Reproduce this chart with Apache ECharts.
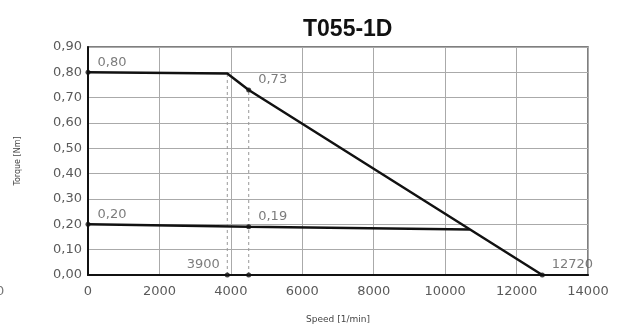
<!DOCTYPE html>
<html>
<head>
<meta charset="utf-8">
<script src="https://cdn.jsdelivr.net/npm/echarts@6/dist/echarts.min.js"></script>
<style>
  html, body { margin: 0; padding: 0; background: #fff; }
  #chart { width: 622px; height: 329px; }
</style>
</head>
<body>
<div id="chart"></div>
<script>
// Torque/speed characteristic of the T055-1D drive
const chartTitle = 'T055-1D';
const xAxisName = 'Speed [1/min]';
const yAxisName = 'Torque [Nm]';

// Peak torque curve: speed [1/min] and torque [Nm]
const peakSpeed = [0, 3900, 4500, 12720];
const peakTorque = [0.80, 0.795, 0.73, 0];

// Continuous torque curve
const contSpeed = [0, 4500, 10690];
const contTorque = [0.20, 0.19, 0.18];

// Annotated points: speed, torque, which value to print, label side
const markSpeed = [0, 4500, 0, 4500, 3900, 12720];
const markTorque = [0.80, 0.73, 0.20, 0.19, 0, 0];
const markShows = ['torque', 'torque', 'torque', 'torque', 'speed', 'speed'];
const markSide = ['right', 'right', 'right', 'right', 'left', 'right'];

// Extra unlabelled dots on the speed axis
const axisDotSpeed = [4500];

// Guide lines dropped from the corner points to the speed axis
const guideSpeed = [3900, 4500];
const guideTop = [0.80, 0.73];

const fmtTorque = v => v.toFixed(2).replace('.', ',');
const fmtSpeed = v => String(v);
const labelFont = { fontFamily: 'DejaVu Sans', fontSize: 13, color: '#5a5a5a' };

const pairs = (xs, ys) => xs.map((x, i) => [x, ys[i]]);

const markPoints = markSpeed.map((s, i) => ({
  value: [s, markTorque[i]],
  label: {
    show: true,
    position: markSide[i],
    distance: markSide[i] === 'left' ? 5 : 7,
    offset: [0, -10],
    formatter: markShows[i] === 'torque' ? fmtTorque(markTorque[i]) : fmtSpeed(s),
    ...labelFont
  }
}));
axisDotSpeed.forEach(s => markPoints.push({ value: [s, 0], label: { show: false } }));

const guideSeries = guideSpeed.map((s, i) => ({
  type: 'line',
  data: [[s, 0], [s, guideTop[i]]],
  symbol: 'none',
  silent: true,
  z: 1,
  lineStyle: { color: '#999', width: 1, type: [3, 3] }
}));

const chart = echarts.init(document.getElementById('chart'), null, { renderer: 'canvas' });
chart.setOption({
  backgroundColor: '#fff',
  animation: false,
  title: {
    text: chartTitle,
    left: 298,
    top: 13,
    textStyle: { fontFamily: 'Liberation Sans', fontWeight: 'bold', fontSize: 23, color: '#111' }
  },
  grid: {
    left: 88, right: 34, top: 47, bottom: 51,
    containLabel: false,
    show: true,
    borderColor: '#555',
    borderWidth: 1.5
  },
  xAxis: {
    type: 'value',
    min: 0, max: 14000, interval: 2000,
    name: xAxisName,
    nameLocation: 'middle',
    nameGap: 40,
    nameTextStyle: { fontFamily: 'DejaVu Sans', fontSize: 9, color: '#444' },
    axisLine: { show: true, onZero: false, lineStyle: { color: '#111', width: 2 } },
    axisTick: { show: false },
    axisLabel: { margin: 10, formatter: fmtSpeed, ...labelFont },
    splitLine: { show: true, lineStyle: { color: '#aaa', width: 1 } }
  },
  yAxis: {
    type: 'value',
    min: 0, max: 0.9, interval: 0.1,
    name: yAxisName,
    nameLocation: 'middle',
    nameRotate: 90,
    nameGap: 66,
    nameTextStyle: { fontFamily: 'DejaVu Sans', fontSize: 8, color: '#444' },
    axisLine: { show: true, onZero: false, lineStyle: { color: '#111', width: 2 } },
    axisTick: { show: false },
    axisLabel: { margin: 6, formatter: fmtTorque, ...labelFont },
    splitLine: { show: true, lineStyle: { color: '#aaa', width: 1 } }
  },
  graphic: [{
    type: 'text',
    left: -4,
    top: 285,
    style: { text: '0', fontFamily: 'DejaVu Sans', fontSize: 13, fill: '#777' }
  }],
  series: [
    ...guideSeries,
    {
      type: 'line',
      data: pairs(peakSpeed, peakTorque),
      symbol: 'none',
      z: 3,
      lineStyle: { color: '#111', width: 2.5 }
    },
    {
      type: 'line',
      data: pairs(contSpeed, contTorque),
      symbol: 'none',
      z: 3,
      lineStyle: { color: '#111', width: 2.5 }
    },
    {
      type: 'scatter',
      data: markPoints,
      symbol: 'circle',
      symbolSize: 5,
      z: 4,
      itemStyle: { color: '#111' }
    }
  ]
});
</script>
</body>
</html>
